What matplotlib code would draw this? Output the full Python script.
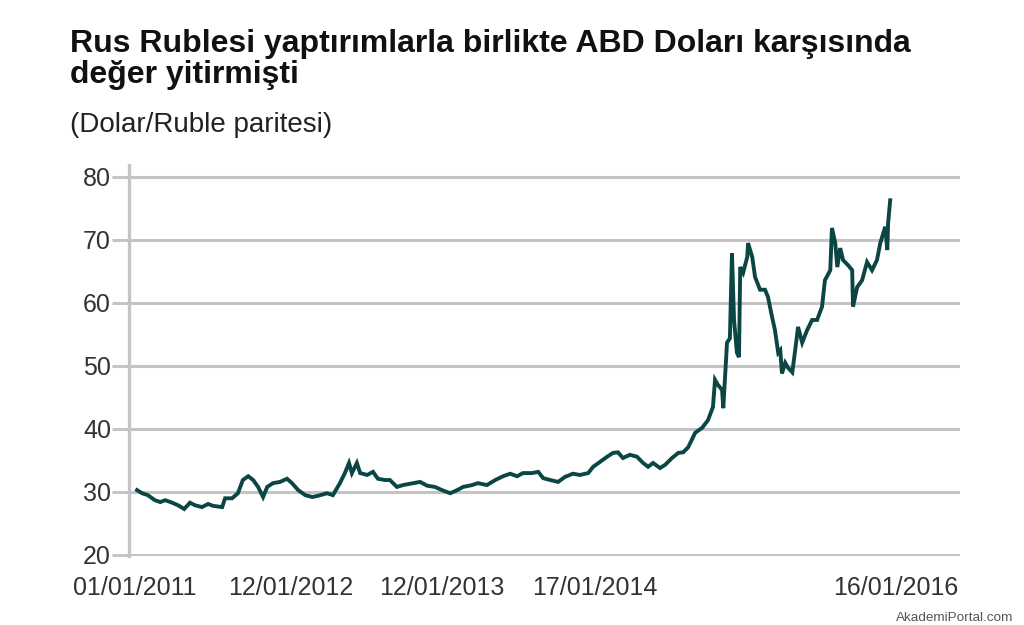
import matplotlib
matplotlib.use("Agg")
import matplotlib.pyplot as plt
import matplotlib.dates as mdates
import pandas as pd

plt.rcParams['font.family'] = ['Liberation Sans', 'DejaVu Sans']

# gun: 01/01/2011'den itibaren gecen gun sayisi, kur: Dolar/Ruble
gun = [5, 17, 31, 48, 61, 73, 90, 104, 119, 133, 145, 162, 177, 189, 211, 218,
       235, 249, 261, 274, 286, 298, 310, 320, 334, 351, 368, 380, 395, 412,
       429, 443, 465, 479, 496, 508, 518, 525, 537, 545, 562, 576, 588, 605,
       617, 634, 649, 673, 690, 707, 726, 743, 763, 780, 794, 816, 830, 852,
       872, 891, 908, 925, 939, 961, 976, 988, 1005, 1024, 1041, 1060, 1077,
       1097, 1109, 1126, 1143, 1157, 1169, 1181, 1198, 1215, 1230, 1242, 1254,
       1271, 1283, 1300, 1315, 1327, 1339, 1356, 1373, 1387, 1399, 1404, 1411,
       1421, 1424, 1433, 1440, 1445, 1450, 1457, 1462, 1465, 1472, 1482, 1484,
       1494, 1501, 1513, 1525, 1532, 1542, 1549, 1557, 1562, 1566, 1574, 1581,
       1591, 1598, 1605, 1615, 1627, 1639, 1651, 1663, 1670, 1683, 1687, 1695,
       1700, 1707, 1714, 1726, 1736, 1738, 1748, 1760, 1772, 1784, 1796, 1804,
       1816, 1821, 1823, 1828]
kur = [30.3, 29.8, 29.5, 28.7, 28.4, 28.7, 28.3, 27.9, 27.3, 28.3, 27.9, 27.6,
       28.1, 27.8, 27.6, 29.0, 29.0, 29.8, 31.9, 32.5, 31.9, 30.8, 29.2, 30.8,
       31.4, 31.6, 32.1, 31.4, 30.3, 29.5, 29.2, 29.4, 29.8, 29.5, 31.4, 33.0,
       34.6, 33.0, 34.6, 33.0, 32.7, 33.2, 32.1, 31.9, 31.9, 30.8, 31.1, 31.4,
       31.6, 31.0, 30.8, 30.3, 29.8, 30.3, 30.8, 31.1, 31.4, 31.1, 31.9, 32.5,
       32.9, 32.5, 33.0, 33.0, 33.2, 32.2, 31.9, 31.6, 32.4, 32.9, 32.7, 33.0,
       34.0, 34.8, 35.6, 36.2, 36.3, 35.4, 35.9, 35.6, 34.6, 34.0, 34.6, 33.8,
       34.3, 35.4, 36.2, 36.3, 37.1, 39.4, 40.2, 41.4, 43.5, 47.8, 47.0, 46.2,
       43.3, 53.7, 54.4, 67.9, 57.3, 52.1, 51.4, 65.7, 64.8, 67.3, 69.5, 67.3,
       64.1, 62.1, 62.1, 61.0, 57.8, 55.7, 52.1, 52.5, 48.8, 50.5, 49.7, 49.0,
       52.5, 56.2, 53.7, 55.7, 57.3, 57.3, 59.4, 63.6, 65.2, 71.9, 69.5, 65.7,
       68.7, 66.8, 66.0, 65.2, 59.4, 62.5, 63.6, 66.5, 65.2, 66.8, 69.5, 72.1,
       68.4, 72.7, 76.3]

etiket_tarihleri = ['2011-01-01', '2012-01-12', '2013-01-12', '2014-01-17', '2016-01-16']

baslangic = pd.Timestamp('2011-01-01')
tarihler = [baslangic + pd.Timedelta(days=g) for g in gun]

fig = plt.figure(figsize=(10.24, 6.25), dpi=100)
ax = fig.add_axes([0.126, 0.110, 0.8115, 0.626])

ax.plot(tarihler, kur, color='#0b4644', linewidth=2.8, solid_joinstyle='miter', zorder=3)

ax.set_ylim(19.8, 81.9)
ax.set_yticks([20, 30, 40, 50, 60, 70, 80])
ax.set_xlim(baslangic - pd.Timedelta(days=14.5), baslangic + pd.Timedelta(days=1997))
ax.set_xticks(pd.to_datetime(etiket_tarihleri))
ax.xaxis.set_major_formatter(mdates.DateFormatter('%d/%m/%Y'))

ax.grid(axis='y', color='#c4c4c4', linewidth=2.2)
ax.set_axisbelow(True)
for s in ['top', 'right', 'bottom']:
    ax.spines[s].set_visible(False)
ax.spines['left'].set_color('#c4c4c4')
ax.spines['left'].set_linewidth(2.4)
ax.tick_params(axis='y', length=12, width=2.2, color='#c4c4c4', pad=1,
               labelsize=18, labelcolor='#333333')
ax.tick_params(axis='x', length=0, pad=14, labelsize=18, labelcolor='#333333')

fig.text(0.068, 1 - 52 / 625, 'Rus Rublesi yaptırımlarla birlikte ABD Doları karşısında',
         fontsize=23, fontweight='bold', color='#111111', va='baseline', ha='left')
fig.text(0.068, 1 - 83 / 625, 'değer yitirmişti',
         fontsize=23, fontweight='bold', color='#111111', va='baseline', ha='left')
fig.text(0.068, 1 - 132 / 625, '(Dolar/Ruble paritesi)', fontsize=20, color='#222222',
         va='baseline', ha='left')
fig.text(0.99, 0.002, 'AkademiPortal.com', fontsize=9.7, color='#555555',
         ha='right', va='bottom')

fig.savefig('out.png', dpi=100)
